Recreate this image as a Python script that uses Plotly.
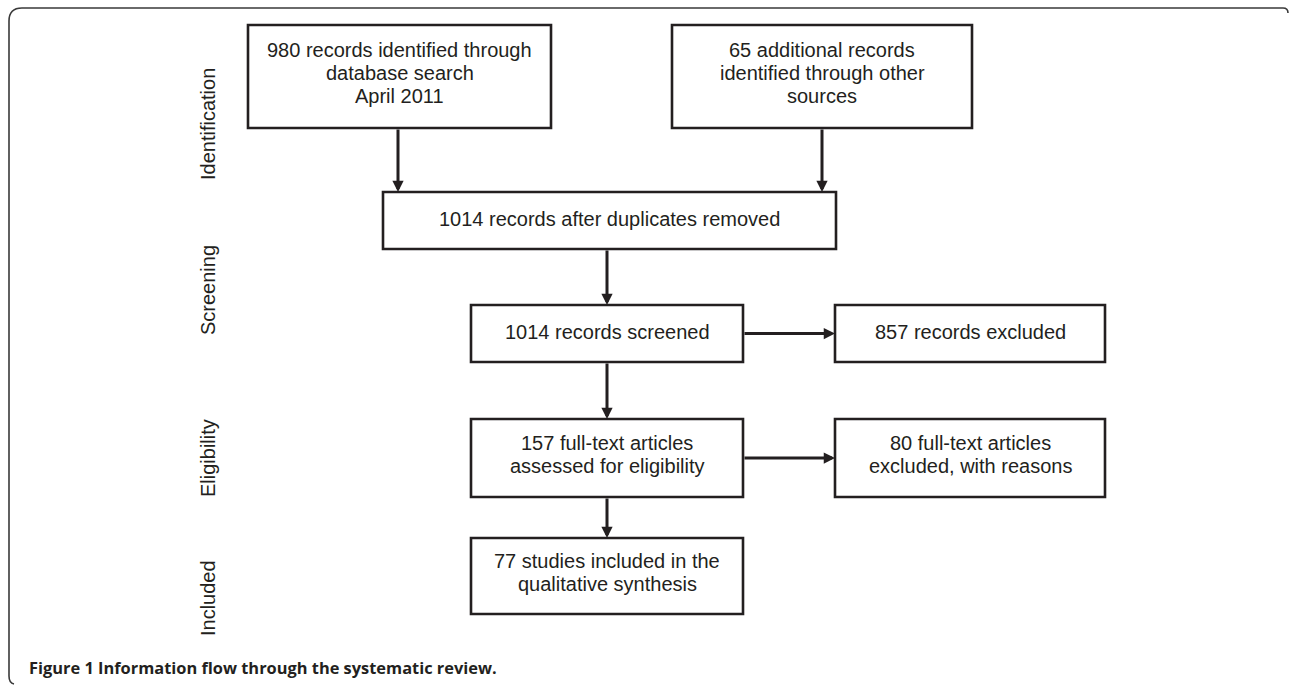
import plotly.graph_objects as go

# ---- content ----
box_texts = [
    ["980 records identified through", "database search", "April 2011"],
    ["65 additional records", "identified through other", "sources"],
    ["1014 records after duplicates removed"],
    ["1014 records screened"],
    ["857 records excluded"],
    ["157 full-text articles", "assessed for eligibility"],
    ["80 full-text articles", "excluded, with reasons"],
    ["77 studies included in the", "qualitative synthesis"],
]
stage_labels = ["Identification", "Screening", "Eligibility", "Included"]
caption = "Figure 1 Information flow through the systematic review."

# ---- geometry (pixels, y downward) ----
box_x0 = [248, 672, 383, 471, 835, 471, 835, 471]
box_x1 = [551, 972, 836, 743, 1105, 743, 1105, 743]
box_y0 = [25, 25, 192, 305, 305, 419, 419, 538]
box_y1 = [128, 128, 249, 362, 362, 497, 497, 614]

# arrows: (from box, to box, direction, x for vertical arrows)
arrows = [(0, 2, "down", 398), (1, 2, "down", 822), (2, 3, "down", 607),
          (3, 4, "right", None), (3, 5, "down", 607), (5, 6, "right", None),
          (5, 7, "down", 607)]

stage_x = 208
stage_y = [124, 290, 458, 598]

W, H = 1290, 685
INK = "#231f20"

fig = go.Figure()
shapes = []
annotations = []

# boxes and texts
for i, lines in enumerate(box_texts):
    x0, x1, y0, y1 = box_x0[i], box_x1[i], box_y0[i], box_y1[i]
    shapes.append(dict(type="rect", xref="x", yref="y", x0=x0, x1=x1, y0=y0, y1=y1,
                       line=dict(color=INK, width=2.6), fillcolor="rgba(0,0,0,0)"))
    n = len(lines)
    cx = (x0 + x1) / 2
    cy = (y0 + y1) / 2 - (2 if n == 1 else 4)
    sp = 23
    for k, t in enumerate(lines):
        ty = cy + (k - (n - 1) / 2) * sp
        annotations.append(dict(x=cx, y=ty, xref="x", yref="y", text=t, showarrow=False,
                                xanchor="center", yanchor="middle",
                                font=dict(family="Liberation Sans, Arial", size=20, color=INK)))

# arrows
for a, b, d, ax_ in arrows:
    if d == "down":
        tail = (ax_, box_y1[a])
        tip = (ax_, box_y0[b])
    else:
        y = (box_y0[a] + box_y1[a]) / 2
        tail = (box_x1[a], y)
        tip = (box_x0[b], y)
    annotations.append(dict(x=tip[0], y=tip[1], ax=tail[0], ay=tail[1], xref="x", yref="y",
                            axref="x", ayref="y", showarrow=True, arrowhead=2, arrowsize=0.75,
                            arrowwidth=3, arrowcolor=INK, text="", standoff=0, startstandoff=0))

# stage labels
for t, y in zip(stage_labels, stage_y):
    annotations.append(dict(x=stage_x, y=y, xref="x", yref="y", text=t, showarrow=False,
                            textangle=-90, xanchor="center", yanchor="middle",
                            font=dict(family="Liberation Sans, Arial", size=20, color=INK)))

# caption
annotations.append(dict(x=27, y=667, xref="x", yref="y", text="<b>" + caption + "</b>",
                        showarrow=False, xanchor="left", yanchor="middle",
                        font=dict(family="Open Sans", size=16.4, color=INK)))

# outer frame (open on right/bottom)
frame = ("M 1288,13 Q 1288,8 1283,8 L 22,8 Q 9,8 9,21 L 9,676 Q 9,683 14,684")
shapes.append(dict(type="path", xref="x", yref="y", path=frame,
                   line=dict(color="#3a3a3a", width=1.6)))

fig.update_layout(
    width=W, height=H, margin=dict(l=0, r=0, t=0, b=0),
    paper_bgcolor="white", plot_bgcolor="white",
    xaxis=dict(range=[0, W], visible=False, fixedrange=True),
    yaxis=dict(range=[H, 0], visible=False, fixedrange=True),
    shapes=shapes, annotations=annotations, showlegend=False,
)

fig.write_html("out.html", config={"displayModeBar": False},
               post_script="document.body.style.margin='0';document.body.style.overflow='hidden';")
